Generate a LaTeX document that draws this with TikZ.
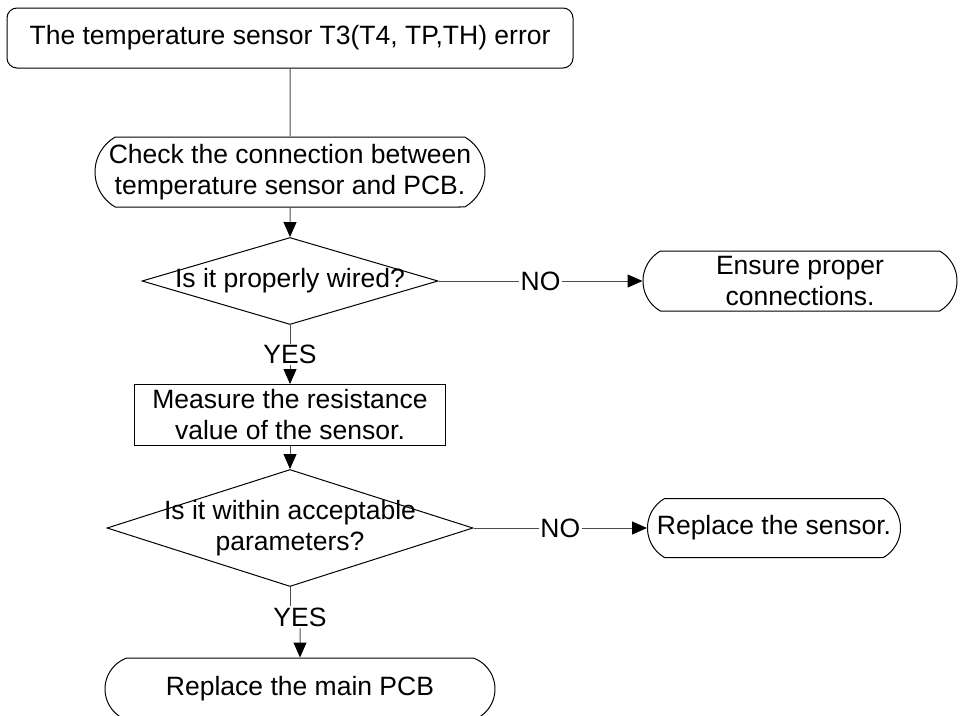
\documentclass[tikz,border=0pt]{standalone}
\usepackage{fontspec}
\setmainfont{Liberation Sans}
\usetikzlibrary{arrows.meta,shapes.geometric,shapes.misc}

\begin{document}
\begin{tikzpicture}[x=1pt,y=-1pt,
    every node/.style={font=\fontsize{26.5}{31}\selectfont, line width=1pt},
    startbox/.style={draw, rectangle, rounded corners=10pt, inner sep=0pt},
    pill/.style={draw, rounded rectangle, rounded rectangle arc length=120, align=center, inner sep=0pt},
    procbox/.style={draw, rectangle, align=center, inner sep=0pt},
    decision/.style={draw, diamond, inner sep=0pt},
    lbl/.style={fill=white, inner sep=1.5pt},
    link/.style={draw=black!70, line width=1pt},
    arr/.style={link, -{Triangle[length=15pt,width=13pt,color=black]}}]
\useasboundingbox (0,0) rectangle (966,715);

\node[startbox, minimum width=566pt, minimum height=60pt] (title) at (290,38) {The temperature sensor T3(T4, TP,TH) error};
\node[pill, minimum width=390pt, minimum height=70pt] (check) at (290,172) {Check the connection between\\temperature sensor and PCB.};
\node[decision, minimum width=296pt, minimum height=87pt, label={center:Is it properly wired?}] (d1) at (290,281) {};
\node[pill, minimum width=314pt, minimum height=60pt] (ensure) at (800,281) {Ensure proper\\connections.};
\node[procbox, minimum width=311pt, minimum height=61pt] (meas) at (290,415) {Measure the resistance\\value of the sensor.};
\node[decision, minimum width=366pt, minimum height=117pt, label={[align=center]center:{Is it within acceptable\\parameters?}}] (d2) at (290,528) {};
\node[pill, minimum width=253pt, minimum height=59pt] (sensor) at (774,528) {Replace the sensor.};
\node[lbl] (yes2) at (300,617) {YES};
\node[pill, rounded rectangle arc length=140, minimum width=390pt, minimum height=62pt] (pcb) at (300,689) {Replace the main PCB};

\draw[link] (title) -- (check);
\draw[arr] (check) -- (d1);
\draw[arr] (d1) -- node[lbl] {NO} (ensure);
\draw[arr] (d1) -- node[lbl] {YES} (meas);
\draw[arr] (meas) -- (d2);
\draw[arr] (d2) -- node[lbl] {NO} (sensor);
\draw[link] (d2.south) -- (d2.south |- yes2.north);
\draw[arr] (yes2) -- (pcb);
\end{tikzpicture}
\end{document}
